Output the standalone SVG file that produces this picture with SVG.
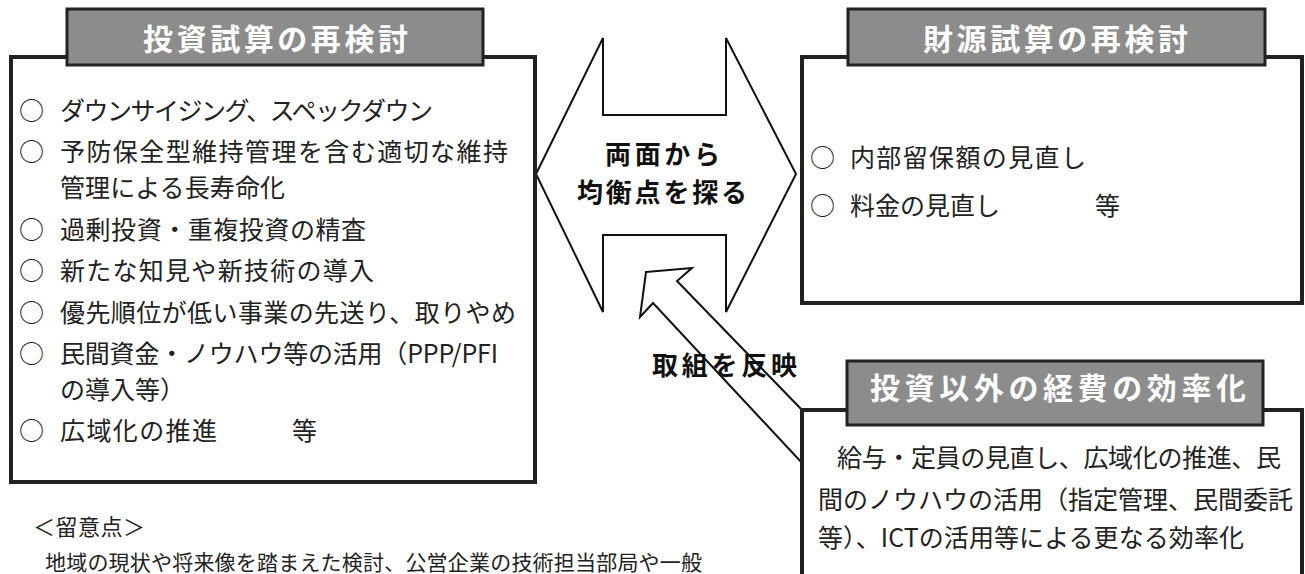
<svg xmlns="http://www.w3.org/2000/svg" width="1305" height="574" viewBox="0 0 1305 574">
<style>
text{font-family:"Noto Sans CJK JP","Noto Sans",sans-serif;fill:#222;}
.box{fill:#fff;stroke:#222;stroke-width:4;}
.tbox{fill:#8c8c8c;stroke:#222;stroke-width:3;}
.title{font-size:30px;font-weight:bold;fill:#fff;}
.item{font-size:25px;}
.arrow{fill:#fff;stroke:#111;stroke-width:2;stroke-linejoin:miter;}
.bold{font-size:26px;font-weight:bold;fill:#111;}
</style>
<rect width="1305" height="574" fill="#fff"/>

<g id="connectors">
<polygon class="arrow" points="536,174 603,38 603,115 726,115 726,38 796,174 726,312 726,235 603,235 603,312"/>
<polygon class="arrow" points="646,272 692,268 677,281 802,410 802,463 653,303 640,317"/>
</g>

<g id="invest">
<rect class="box" x="11" y="57" width="524" height="425"/>
<rect class="tbox" x="67" y="9" width="416" height="56"/>
<text class="title" x="143" y="50" textLength="265" lengthAdjust="spacing">投資試算の再検討</text>
<text class="item"><tspan x="19" y="120">○</tspan><tspan x="60" y="120" textLength="373" lengthAdjust="spacing">ダウンサイジング、スペックダウン</tspan></text>
<text class="item"><tspan x="19" y="161">○</tspan><tspan x="60" y="161" textLength="448" lengthAdjust="spacing">予防保全型維持管理を含む適切な維持</tspan></text>
<text class="item" x="60" y="197" textLength="225" lengthAdjust="spacing">管理による長寿命化</text>
<text class="item"><tspan x="19" y="239">○</tspan><tspan x="60" y="239" textLength="306" lengthAdjust="spacing">過剰投資・重複投資の精査</tspan></text>
<text class="item"><tspan x="19" y="280">○</tspan><tspan x="60" y="280" textLength="314" lengthAdjust="spacing">新たな知見や新技術の導入</tspan></text>
<text class="item"><tspan x="19" y="322">○</tspan><tspan x="60" y="322" textLength="456" lengthAdjust="spacing">優先順位が低い事業の先送り、取りやめ</tspan></text>
<text class="item"><tspan x="19" y="363">○</tspan><tspan x="60" y="363" textLength="438" lengthAdjust="spacing">民間資金・ノウハウ等の活用（PPP/PFI</tspan></text>
<text class="item" x="60" y="399">の導入等）</text>
<text class="item"><tspan x="19" y="440">○</tspan><tspan x="60" y="440" textLength="157" lengthAdjust="spacing">広域化の推進</tspan><tspan x="292" y="440">等</tspan></text>
</g>

<g id="finance">
<rect class="box" x="802" y="57" width="500" height="246"/>
<rect class="tbox" x="848" y="9" width="417" height="56"/>
<text class="title" x="923" y="50" textLength="265" lengthAdjust="spacing">財源試算の再検討</text>
<text class="item"><tspan x="810" y="167">○</tspan><tspan x="850" y="167" textLength="236" lengthAdjust="spacing">内部留保額の見直し</tspan></text>
<text class="item"><tspan x="810" y="215">○</tspan><tspan x="850" y="215">料金の見直し</tspan><tspan x="1095" y="215">等</tspan></text>
</g>

<g id="balance">
<text class="bold" x="605" y="164" textLength="115" lengthAdjust="spacing">両面から</text>
<text class="bold" x="577" y="202" textLength="170" lengthAdjust="spacing">均衡点を探る</text>
</g>

<g id="reflect">
<text class="bold" x="652" y="375" textLength="145" lengthAdjust="spacing">取組を反映</text>
</g>

<g id="efficiency">
<rect class="box" x="802" y="410" width="500" height="200"/>
<rect class="tbox" x="847" y="361" width="416" height="64"/>
<text class="title" x="870" y="399" textLength="376" lengthAdjust="spacing">投資以外の経費の効率化</text>
<text class="item" x="837" y="467" textLength="444" lengthAdjust="spacing">給与・定員の見直し、広域化の推進、民</text>
<text class="item" x="818" y="509" textLength="475" lengthAdjust="spacing">間のノウハウの活用（指定管理、民間委託</text>
<text class="item" x="818" y="547" textLength="426" lengthAdjust="spacing">等）、ICTの活用等による更なる効率化</text>
</g>

<g id="notes">
<text x="33" y="535" font-size="22" textLength="112" lengthAdjust="spacing">＜留意点＞</text>
<text x="45" y="570" font-size="21" textLength="657" lengthAdjust="spacing">地域の現状や将来像を踏まえた検討、公営企業の技術担当部局や一般</text>
</g>
</svg>
